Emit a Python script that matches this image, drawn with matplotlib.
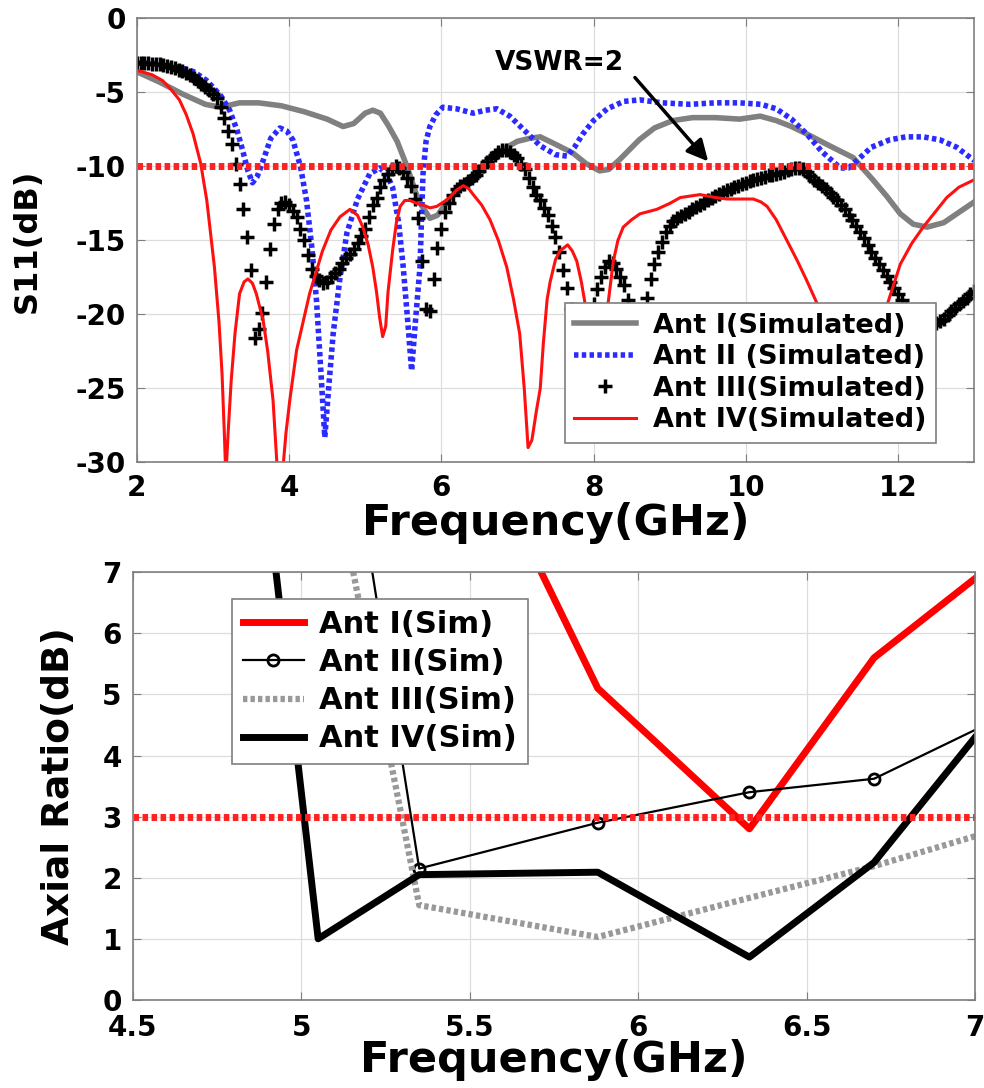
import numpy as np
import matplotlib
matplotlib.use('Agg')
import matplotlib.pyplot as plt

plt.rcParams['font.family'] = ['DejaVu Sans']
plt.rcParams['font.weight'] = 'bold'
plt.rcParams['axes.unicode_minus'] = False

# ---------------- S11 data (GHz, dB) ----------------
f_ant1 = [2.0, 2.3, 2.6, 2.9, 3.1, 3.35, 3.6, 3.9, 4.2, 4.5, 4.71, 4.85, 5.0, 5.1, 5.2,
          5.3, 5.42, 5.55, 5.7, 5.85, 5.95, 6.1, 6.3, 6.5, 6.7, 6.86, 7.0, 7.16, 7.3, 7.5,
          7.73, 7.9, 8.08, 8.2, 8.35, 8.6, 8.8, 9.04, 9.3, 9.6, 9.92, 10.19, 10.4, 10.6,
          10.8, 11.1, 11.41, 11.67, 11.85, 12.03, 12.2, 12.38, 12.6, 12.8, 13.0]
s11_ant1 = [-3.6, -4.3, -5.1, -5.8, -6.0, -5.7, -5.7, -5.9, -6.3, -6.8, -7.3, -7.1, -6.4, -6.2, -6.4,
            -7.2, -8.3, -10.0, -12.3, -13.5, -13.3, -12.2, -11.2, -10.2, -9.2, -8.7, -8.3, -8.1, -8.0, -8.5,
            -9.1, -9.8, -10.3, -10.2, -9.5, -8.2, -7.4, -6.9, -6.7, -6.7, -6.8, -6.6, -6.9, -7.3,
            -7.8, -8.6, -9.4, -10.9, -12.0, -13.2, -13.9, -14.1, -13.8, -13.1, -12.4]

f_ant2 = [2.0, 2.3, 2.56, 2.75, 2.92, 3.1, 3.22, 3.32, 3.39, 3.46, 3.52, 3.58, 3.66, 3.76, 3.88,
          3.97, 4.05, 4.15, 4.23, 4.3, 4.36, 4.42, 4.47, 4.52, 4.58, 4.67, 4.76, 4.9, 5.06, 5.19,
          5.28, 5.36, 5.44, 5.5, 5.56, 5.61, 5.66, 5.72, 5.76, 5.8, 5.85, 5.93, 6.02, 6.2, 6.42,
          6.58, 6.73, 6.9, 7.1, 7.3, 7.5, 7.65, 7.75, 7.86, 8.0, 8.18, 8.4, 8.61, 8.9, 9.27,
          9.6, 9.92, 10.2, 10.4, 10.6, 10.8, 11.0, 11.24, 11.35, 11.46, 11.65, 11.89, 12.1, 12.33, 12.55,
          12.77, 13.0]
s11_ant2 = [-3.0, -3.05, -3.3, -3.6, -4.2, -5.2, -6.2, -7.6, -8.9, -10.3, -11.1, -10.7, -9.6, -8.1, -7.4,
            -7.6, -8.2, -10.0, -12.3, -15.5, -19.0, -24.0, -28.3, -25.0, -21.3, -17.5, -14.5, -12.2, -10.5, -10.1,
            -10.5, -11.4, -13.8, -16.8, -20.5, -23.8, -20.5, -16.8, -10.5, -8.3, -7.3, -6.5, -6.0, -6.1, -6.4,
            -6.2, -6.1, -6.6, -7.6, -8.6, -9.2, -9.3, -8.7, -7.8, -6.9, -6.1, -5.6, -5.5, -5.7, -5.8,
            -5.7, -5.7, -5.8, -6.1, -6.8, -7.8, -9.0, -10.1, -10.1, -9.6, -8.7, -8.2, -8.0, -8.0, -8.2,
            -8.7, -9.6]

# Ant III sampled every 0.05 GHz from 2 to 13
f_ant3 = np.round(np.arange(2.0, 13.025, 0.05), 2)
s11_ant3 = [-3.0, -3.0, -3.0, -3.0, -3.05, -3.05, -3.1, -3.15, -3.2, -3.25,
            -3.35, -3.45, -3.55, -3.7, -3.85, -4.0, -4.2, -4.4, -4.6, -4.85,
            -5.1, -5.4, -6.0, -6.7, -7.6, -8.5, -9.8, -11.2, -12.9, -14.8,
            -17.0, -21.6, -21.0, -19.9, -17.8, -15.6, -13.9, -12.9, -12.5, -12.4,
            -12.6, -13.0, -13.4, -14.2, -15.0, -16.0, -16.9, -17.4, -17.7, -17.9,
            -17.8, -17.5, -17.2, -16.9, -16.5, -16.2, -15.9, -15.6, -15.2, -14.7,
            -14.2, -13.4, -12.6, -12.1, -11.4, -10.9, -10.5, -10.2, -10.0, -10.1,
            -10.4, -10.8, -11.3, -12.2, -13.5, -16.4, -19.6, -19.8, -17.6, -15.5,
            -14.2, -13.1, -12.5, -11.9, -11.5, -11.3, -11.2, -11.0, -10.8, -10.55,
            -10.3, -10.0, -9.7, -9.45, -9.2, -9.0, -8.9, -8.9, -9.0, -9.2,
            -9.4, -9.8, -10.2, -10.8, -11.4, -11.9, -12.3, -12.8, -13.3, -14.0,
            -14.8, -15.8, -17.0, -18.2, -19.6, -21.0, -22.0, -22.2, -21.0, -20.0,
            -19.3, -18.3, -17.5, -16.8, -16.4, -16.5, -16.9, -17.5, -18.0, -19.0,
            -20.0, -20.8, -21.0, -20.2, -18.9, -17.6, -16.6, -15.8, -15.1, -14.4,
            -14.0, -13.7, -13.5, -13.35, -13.2, -13.05, -12.9, -12.75, -12.6, -12.45,
            -12.3, -12.15, -12.0, -11.85, -11.7, -11.6, -11.5, -11.4, -11.3, -11.2,
            -11.1, -11.0, -10.9, -10.85, -10.8, -10.7, -10.6, -10.55, -10.5, -10.45,
            -10.35, -10.25, -10.15, -10.1, -10.1, -10.2, -10.4, -10.65, -10.9, -11.1,
            -11.3, -11.55, -11.8, -12.05, -12.3, -12.6, -12.9, -13.25, -13.6, -14.0,
            -14.4, -14.85, -15.3, -15.75, -16.2, -16.6, -17.0, -17.4, -17.8, -18.2,
            -18.6, -19.05, -19.5, -19.85, -20.2, -20.4, -20.6, -20.7, -20.8, -20.7,
            -20.6, -20.45, -20.3, -20.05, -19.8, -19.55, -19.3, -19.1, -18.9, -18.65,
            -18.4]

f_ant4 = [2.0, 2.2, 2.34, 2.45, 2.56, 2.65, 2.74, 2.84, 2.92, 3.02, 3.08, 3.12, 3.15, 3.17, 3.2,
          3.24, 3.29, 3.35, 3.41, 3.46, 3.52, 3.57, 3.66, 3.72, 3.79, 3.84, 3.87, 3.91, 3.96, 4.01,
          4.1, 4.27, 4.44, 4.55, 4.67, 4.8, 4.9, 4.97, 5.04, 5.1, 5.15, 5.19, 5.23, 5.27, 5.3,
          5.36, 5.41, 5.46, 5.52, 5.59, 5.68, 5.76, 5.85, 5.94, 6.03, 6.11, 6.2, 6.29, 6.36, 6.42,
          6.53, 6.64, 6.75, 6.86, 6.95, 7.03, 7.09, 7.14, 7.19, 7.25, 7.3, 7.34, 7.39, 7.43, 7.5,
          7.56, 7.66, 7.72, 7.78, 7.84, 7.89, 7.95, 8.02, 8.08, 8.14, 8.19, 8.26, 8.32, 8.39, 8.5,
          8.61, 8.83, 9.0, 9.14, 9.4, 9.6, 9.75, 10.1, 10.2, 10.28, 10.4, 10.54, 10.67, 10.8, 10.94,
          11.1, 11.25, 11.4, 11.55, 11.7, 11.86, 12.03, 12.18, 12.33, 12.5, 12.64, 12.8, 13.0]
s11_ant4 = [-3.5, -3.8, -4.2, -4.8, -5.5, -6.5, -7.8, -9.8, -12.3, -16.8, -20.5, -24.0, -28.0, -31.0, -28.0,
            -24.5, -21.3, -18.6, -17.8, -17.6, -17.9, -18.6, -20.4, -22.5, -25.8, -30.0, -33.0, -31.0, -28.0, -25.8,
            -22.4, -18.6, -15.7, -14.3, -13.4, -12.9, -13.3, -14.1, -15.3, -16.8, -18.5, -20.2, -21.5, -20.8, -18.5,
            -15.7, -13.8, -12.7, -12.3, -12.3, -12.5, -12.6, -12.8, -12.7, -12.4, -12.1, -11.6, -11.3, -11.5, -11.9,
            -12.6, -13.6, -15.0, -16.8, -19.0, -21.3, -25.0, -29.0, -28.5, -26.5, -25.0, -22.0, -19.0, -17.8, -16.3,
            -15.7, -15.3, -15.7, -16.4, -17.8, -19.3, -22.0, -24.5, -23.5, -21.0, -19.3, -16.4, -15.0, -14.1, -13.6,
            -13.2, -12.9, -12.5, -12.1, -11.9, -12.1, -12.2, -12.2, -12.4, -12.7, -13.6, -15.0, -16.3, -17.7, -19.3,
            -22.0, -25.0, -28.5, -27.0, -23.5, -19.3, -16.6, -15.2, -14.1, -13.0, -12.1, -11.4, -10.9]

s11_labels = ['Ant I(Simulated)', 'Ant II (Simulated)', 'Ant III(Simulated)', 'Ant IV(Simulated)']
vswr_level = -10

# ---------------- Axial ratio data (GHz, dB) ----------------
f_ar1 = [5.35, 5.88, 6.33, 6.7, 7.0]
ar_ant1 = [11.1, 5.1, 2.8, 5.6, 6.9]
f_ar2 = [5.05, 5.35, 5.88, 6.33, 6.7, 7.0]
ar_ant2 = [12.6, 2.15, 2.9, 3.4, 3.62, 4.42]
f_ar3 = [5.05, 5.35, 5.88, 6.33, 6.7, 7.0]
ar_ant3 = [9.9, 1.55, 1.03, 1.67, 2.19, 2.68]
f_ar4 = [4.8, 5.05, 5.35, 5.88, 6.33, 6.7, 7.0]
ar_ant4 = [13.0, 1.0, 2.05, 2.09, 0.7, 2.25, 4.3]
ar_labels = ['Ant I(Sim)', 'Ant II(Sim)', 'Ant III(Sim)', 'Ant IV(Sim)']
ar_level = 3

top_xticks = [2, 4, 6, 8, 10, 12]
top_yticks = [0, -5, -10, -15, -20, -25, -30]
bot_xticks = [4.5, 5, 5.5, 6, 6.5, 7]
bot_xticklabels = ['4.5', '5', '5.5', '6', '6.5', '7']
bot_yticks = [0, 1, 2, 3, 4, 5, 6, 7]


def style_axes(ax):
    ax.grid(True, color='#dddddd', lw=0.9)
    ax.set_axisbelow(True)
    for sp in ax.spines.values():
        sp.set_color('#7f7f7f')
        sp.set_linewidth(1.2)
    ax.tick_params(direction='in', top=True, right=True, length=6,
                   color='#7f7f7f', labelsize=20, pad=8)


fig = plt.figure(figsize=(9.84, 10.88), dpi=100)

# ---------- top: S11 ----------
ax1 = fig.add_axes([0.139, 0.575, 0.851, 0.408])
style_axes(ax1)
ax1.plot(f_ant1, s11_ant1, color='#808080', lw=4, label=s11_labels[0])
ax1.plot(f_ant2, s11_ant2, color='#2b2bff', lw=4, dashes=(0.8, 0.6), label=s11_labels[1])
ax1.plot(f_ant3, s11_ant3, ls='none', marker='+', ms=10, mew=2.5, color='k', label=s11_labels[2])
ax1.plot(f_ant4, s11_ant4, color='#ff1010', lw=2.2, label=s11_labels[3])
ax1.axhline(vswr_level, color='#ff2020', lw=5, dashes=(0.8, 0.5))
ax1.set_xlim(2, 13)
ax1.set_ylim(-30, 0)
ax1.set_xticks(top_xticks)
ax1.set_yticks(top_yticks)
ax1.set_xlabel('Frequency(GHz)', fontsize=31, fontweight='bold')
ax1.xaxis.set_label_coords(0.5, -0.09)
ax1.set_ylabel('S11(dB)', fontsize=23, fontweight='bold')
ax1.yaxis.set_label_coords(-0.112, 0.5)

ax1.text(6.7, -3.5, 'VSWR=2', fontsize=19, fontweight='bold', va='baseline')
ax1.annotate('', xy=(9.53, -9.8), xytext=(8.52, -3.85),
             arrowprops=dict(arrowstyle='-|>', color='k', lw=2.5, mutation_scale=32))

leg1 = ax1.legend(loc='upper left', bbox_to_anchor=(0.511, 0.358), borderaxespad=0,
                  fontsize=19.5, numpoints=1, handlelength=2.3, labelspacing=0.2,
                  handletextpad=0.6, borderpad=0.35, fancybox=False, framealpha=1,
                  edgecolor='#7f7f7f')
leg1.get_frame().set_linewidth(1.2)

# ---------- bottom: axial ratio ----------
ax2 = fig.add_axes([0.135, 0.081, 0.856, 0.393])
style_axes(ax2)
ax2.plot(f_ar1, ar_ant1, color='#ff0000', lw=5, label=ar_labels[0])
ax2.plot(f_ar2, ar_ant2, color='k', lw=1.6, marker='o', ms=8, mfc='none', mew=2,
         markevery=[1, 2, 3, 4], label=ar_labels[1])
ax2.plot(f_ar3, ar_ant3, color='#999999', lw=4.5, dashes=(0.7, 0.5), label=ar_labels[2])
ax2.plot(f_ar4, ar_ant4, color='k', lw=5, label=ar_labels[3])
ax2.axhline(ar_level, color='#ff2020', lw=5, dashes=(0.8, 0.5))
ax2.set_xlim(4.5, 7)
ax2.set_ylim(0, 7)
ax2.set_xticks(bot_xticks)
ax2.set_xticklabels(bot_xticklabels)
ax2.set_yticks(bot_yticks)
ax2.tick_params(axis='x', pad=10)
ax2.set_xlabel('Frequency(GHz)', fontsize=31, fontweight='bold')
ax2.xaxis.set_label_coords(0.5, -0.092)
ax2.set_ylabel('Axial Ratio(dB)', fontsize=27, fontweight='bold')
ax2.yaxis.set_label_coords(-0.066, 0.5)

leg2 = ax2.legend(loc='upper left', bbox_to_anchor=(0.118, 0.937), borderaxespad=0,
                  fontsize=22, numpoints=1, handlelength=2.0, labelspacing=0.3,
                  handletextpad=0.5, borderpad=0.35, fancybox=False, framealpha=1,
                  edgecolor='#7f7f7f')
leg2.get_frame().set_linewidth(1.2)

fig.savefig('out.png', dpi=100)
